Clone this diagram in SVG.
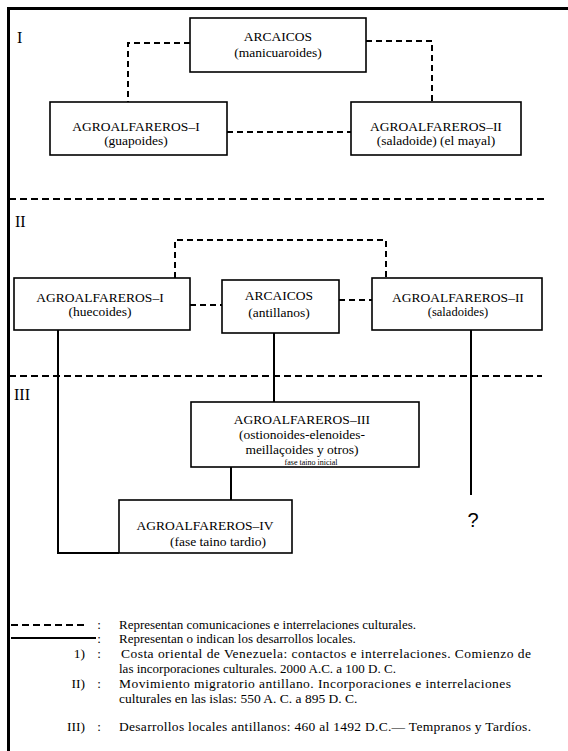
<svg xmlns="http://www.w3.org/2000/svg" width="568" height="751" viewBox="0 0 568 751">
<style>
.box{fill:#fff;stroke:#000;stroke-width:1.6}
.t{font-family:"Liberation Serif",serif;font-size:13.5px;fill:#000;text-anchor:middle}
.s{font-size:12.5px}
.dash{fill:none;stroke:#000;stroke-width:2;stroke-dasharray:6 4}
.sep{fill:none;stroke:#000;stroke-width:2;stroke-dasharray:7 4}
.solid{fill:none;stroke:#000;stroke-width:2}
.lbl{font-family:"Liberation Serif",serif;font-size:16px;fill:#000}
.lg{font-family:"Liberation Serif",serif;font-size:13px;fill:#000}
.lb{font-size:13.5px}
.r{text-anchor:end}
.m{text-anchor:middle}
</style>
<rect width="568" height="751" fill="#fff"/>
<path d="M8.5,751 V8.5 H568" stroke="#000" stroke-width="3" fill="none"/>

<g id="section-labels">
<text class="lbl" x="17" y="43">I</text>
<text class="lbl" x="15" y="227">II</text>
<text class="lbl" x="14" y="400">III</text>
</g>

<g id="separators">
<path class="sep" d="M9,199 H548"/>
<path class="sep" d="M9,376 H542"/>
</g>

<g id="connectors">
<path class="dash" d="M190,43 H128 V102"/>
<path class="dash" d="M366,41 H432 V102"/>
<path class="dash" d="M227,132 H351"/>
<path class="dash" d="M175,278 V240 H386 V278"/>
<path class="dash" d="M190,305 H222"/>
<path class="dash" d="M339,300 H372"/>
<path class="solid" d="M58,330 V553 H119"/>
<path class="solid" d="M274,333 V402"/>
<path class="solid" d="M471,330 V495"/>
<path class="solid" d="M231,467 V500"/>
</g>

<g id="n1-arcaicos">
<rect class="box" x="190" y="18" width="176" height="54"/>
<text class="t" x="278" y="41">ARCAICOS</text>
<text class="t" x="278" y="57">(manicuaroides)</text>
</g>
<g id="n1-agro1">
<rect class="box" x="50" y="102" width="177" height="53"/>
<text class="t" x="136" y="131">AGROALFAREROS–I</text>
<text class="t" x="136" y="145">(guapoides)</text>
</g>
<g id="n1-agro2">
<rect class="box" x="351" y="102" width="170" height="53"/>
<text class="t" x="436" y="131">AGROALFAREROS–II</text>
<text class="t" x="436" y="145">(saladoide) (el mayal)</text>
</g>

<g id="n2-agro1">
<rect class="box" x="14" y="278" width="176" height="52"/>
<text class="t" x="100" y="302">AGROALFAREROS–I</text>
<text class="t" x="100" y="316">(huecoides)</text>
</g>
<g id="n2-arcaicos">
<rect class="box" x="222" y="280" width="117" height="53"/>
<text class="t" x="279" y="300">ARCAICOS</text>
<text class="t" x="279" y="317">(antillanos)</text>
</g>
<g id="n2-agro2">
<rect class="box" x="372" y="278" width="170" height="52"/>
<text class="t" x="458" y="302">AGROALFAREROS–II</text>
<text class="t s" x="458" y="316">(saladoides)</text>
</g>

<g id="n3-agro3">
<rect class="box" x="191" y="402" width="228" height="65"/>
<text class="t" x="302" y="424">AGROALFAREROS–III</text>
<text class="t" x="302" y="439">(ostionoides-elenoides-</text>
<text class="t" x="302" y="454">meillaçoides y otros)</text>
<text class="t" x="311" y="465" style="font-size:8px">fase taino inicial</text>
</g>
<g id="n3-agro4">
<rect class="box" x="119" y="500" width="173" height="53"/>
<text class="t" x="205" y="530">AGROALFAREROS–IV</text>
<text class="t" x="218" y="546">(fase taino tardio)</text>
</g>
<g id="n3-unknown">
<text x="473" y="527" style="font-family:'Liberation Sans',sans-serif;font-size:20px;text-anchor:middle">?</text>
</g>

<g id="legend">
<path class="sep" d="M11,625 H88"/>
<path class="solid" d="M11,638 H96"/>
<text class="lg m" x="99" y="629">:</text>
<text class="lg m" x="99" y="643">:</text>
<text class="lg lb r" x="85" y="658">1)</text>
<text class="lg m" x="99" y="658">:</text>
<text class="lg lb r" x="85" y="688">II)</text>
<text class="lg m" x="99" y="688">:</text>
<text class="lg lb r" x="85" y="731">III)</text>
<text class="lg m" x="99" y="731">:</text>
<text class="lg" x="119" y="629">Representan comunicaciones e interrelaciones culturales.</text>
<text class="lg" x="119" y="643">Representan o indican los desarrollos locales.</text>
<text class="lg lb" x="121" y="658" textLength="410" lengthAdjust="spacing">Costa oriental de Venezuela: contactos e interrelaciones. Comienzo de</text>
<text class="lg" x="119" y="673">las incorporaciones culturales. 2000 A.C. a 100 D. C.</text>
<text class="lg lb" x="119" y="688" textLength="392" lengthAdjust="spacing">Movimiento migratorio antillano. Incorporaciones e interrelaciones</text>
<text class="lg lb" x="119" y="703">culturales en las islas: 550 A. C. a 895 D. C.</text>
<text class="lg lb" x="119" y="731" textLength="412" lengthAdjust="spacing">Desarrollos locales antillanos: 460 al 1492 D.C.— Tempranos y Tardíos.</text>
</g>
</svg>
